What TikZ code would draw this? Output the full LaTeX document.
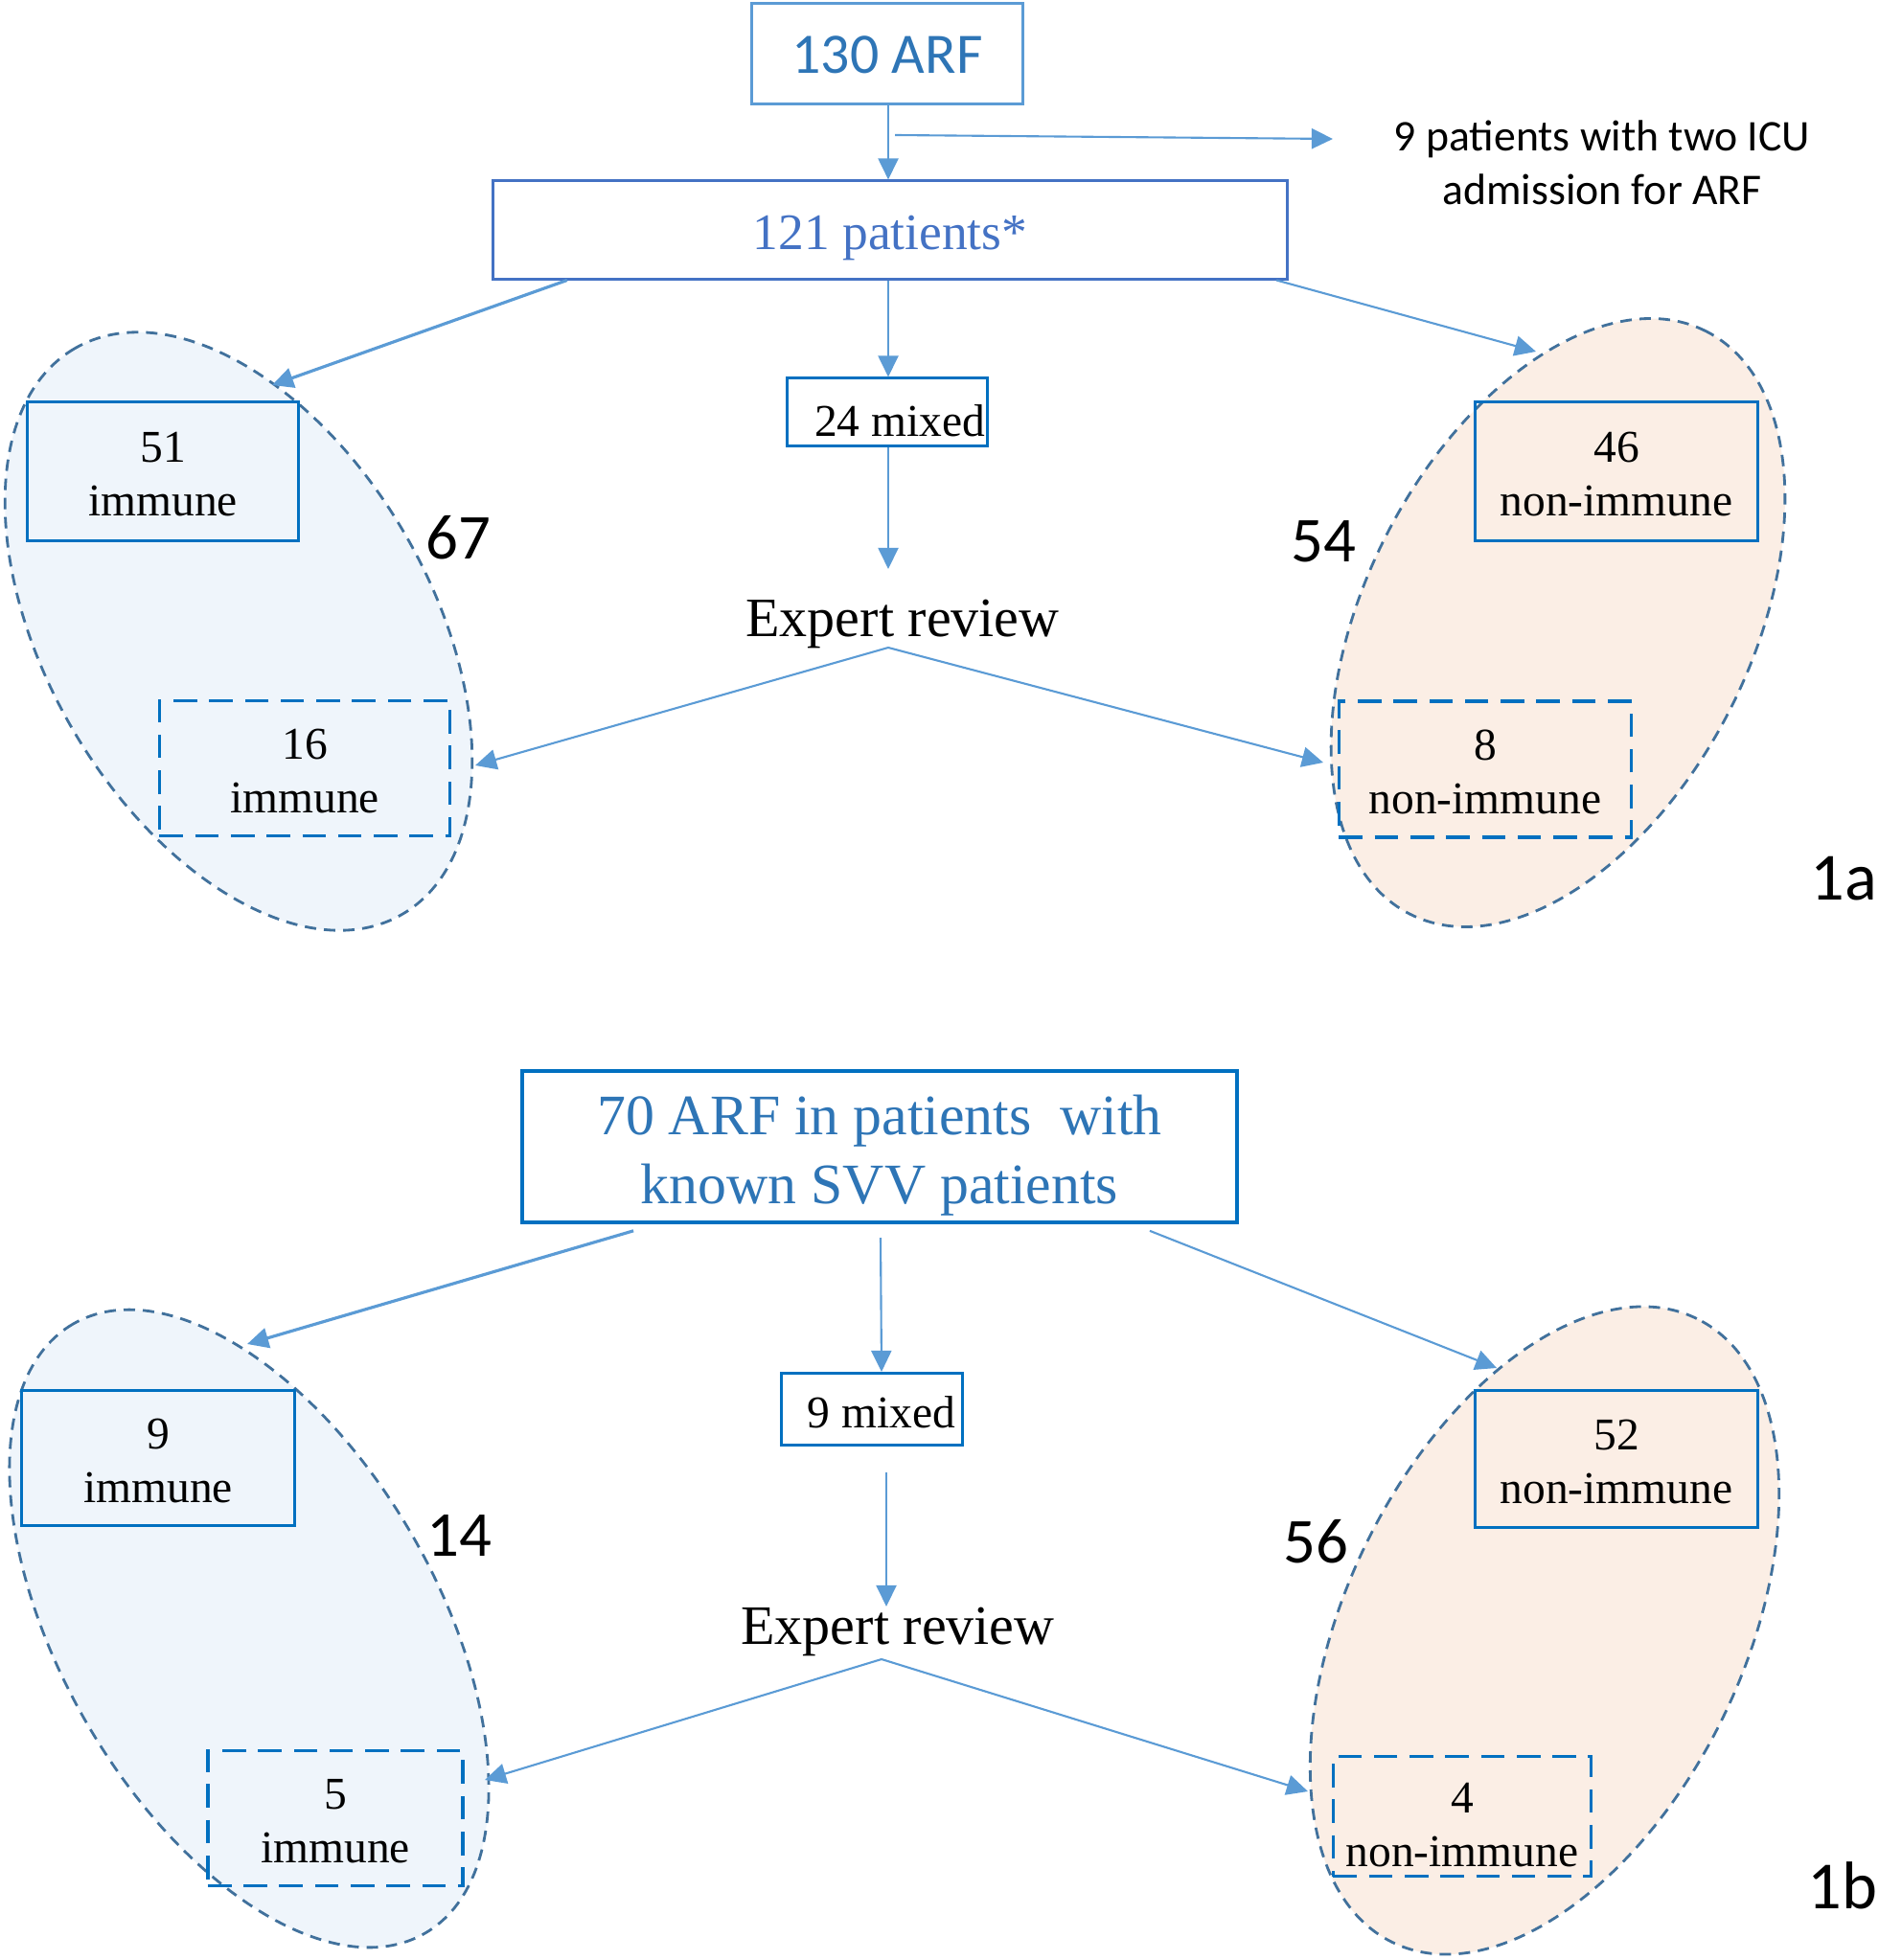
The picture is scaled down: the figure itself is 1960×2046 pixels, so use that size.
\documentclass[tikz,border=0pt]{standalone}
\usepackage{fontspec}
\setmainfont{Liberation Serif}
\newfontfamily\calfont{Carlito}
\usetikzlibrary{arrows.meta,shapes.geometric}
\definecolor{arrowblue}{HTML}{5B9BD5}
\definecolor{boxblue}{HTML}{0070C0}
\definecolor{bblue}{HTML}{4472C4}
\definecolor{ablue}{HTML}{5B9BD5}
\definecolor{ellborder}{HTML}{41719C}
\definecolor{ellL}{HTML}{EFF5FB}
\definecolor{ellR}{HTML}{FBEEE5}
\definecolor{txtblue}{HTML}{2E75B6}
\definecolor{txtblueB}{HTML}{4472C4}
\begin{document}
\begin{tikzpicture}[x=0.01cm,y=-0.01cm,
  arr/.style={draw=arrowblue, line width=0.6pt, -{Triangle[length=6.3pt,width=6pt]}},
  thickarr/.style={arr, line width=0.9pt},
  lab/.style={inner sep=0, align=center, font=\fontsize{13.5}{16}\selectfont},
  sbox/.style={draw=boxblue, line width=0.85pt, inner sep=0},
  dbox/.style={sbox, line width=1pt, dash pattern=on 7pt off 3.6pt},
  ell/.style={ellipse, draw=ellborder, line width=0.8pt, dash pattern=on 3.4pt off 2.3pt, inner sep=0},
  num/.style={font=\calfont\fontsize{19}{19}\selectfont, inner sep=0},
  review/.style={font=\fontsize{16.5}{18}\selectfont, inner sep=0},
]
\useasboundingbox (0,0) rectangle (1960,2046);

% ---------------- panel 1a ----------------
\node[ell, fill=ellL, minimum width=68.2mm, minimum height=40.2mm, rotate=120] (EL1) at (249,659) {};
\node[ell, fill=ellR, minimum width=68.2mm, minimum height=40.2mm, rotate=63] (ER1) at (1626,650) {};

\node[draw=ablue, line width=0.85pt, minimum width=28.2mm, minimum height=10.4mm, inner sep=0,
      label={[lab, text=txtblue, font=\calfont\fontsize{17}{20}\selectfont, yshift=-0.15mm]center:130 ARF}] (A) at (926,56) {};
\node[draw=bblue, line width=0.85pt, minimum width=82.9mm, minimum height=10.2mm, inner sep=0,
      label={[lab, text=txtblueB, font=\fontsize{15.2}{18}\selectfont, yshift=-0.8mm]center:121 patients*}] (B) at (929,240) {};

\coordinate (s1) at (934,141);
\coordinate (s2) at (1391,145);
\node[align=center, font=\calfont\fontsize{13}{16}\selectfont, inner sep=0] (T) at (1672,170)
  {9 patients with two ICU\\admission for ARF};

\node[sbox, minimum width=20.8mm, minimum height=7mm,
      label={[lab, xshift=1.3mm, yshift=-0.9mm]center:24 mixed}] (M1) at (926,430) {};
\coordinate (e1) at (927,594);
\node[review] (E1) at (942,651) {Expert review};
\coordinate (e1b) at (927,676);

\node[sbox, minimum width=28.2mm, minimum height=14.4mm,
      label={[lab, yshift=-0.3mm]center:51\\immune}] (L1) at (170,492) {};
\node[dbox, minimum width=30.3mm, minimum height=14.1mm,
      label={[lab, yshift=-0.3mm]center:16\\immune}] (L2) at (318,802) {};
\node[sbox, minimum width=29.5mm, minimum height=14.4mm,
      label={[lab, yshift=-0.3mm]center:46\\non-immune}] (R1) at (1687,492) {};
\node[dbox, minimum width=30.5mm, minimum height=14.2mm,
      label={[lab, yshift=-0.3mm]center:8\\non-immune}] (R2) at (1550,803) {};

\node[num] (N67) at (478,561) {67};
\node[num] (N54) at (1381,565) {54};
\node[num, font=\calfont\fontsize{20}{20}\selectfont, anchor=east] (P1a) at (1960,917) {1a};

\coordinate (tl1) at (284,402);
\coordinate (tr1) at (1603,367);
\coordinate (tl2) at (496,799);
\coordinate (tr2) at (1381,796);

\draw[arr] (A.south -| 927,0) -- (B.north -| 927,0);
\draw[arr] (s1) -- (s2);
\draw[thickarr] ([xshift=7.9mm]B.south west) -- (tl1);
\draw[arr] (B.south -| 927,0) -- (M1.north -| 927,0);
\draw[arr] ([xshift=-1.3mm]B.south east) -- (tr1);
\draw[arr] (M1.south -| 927,0) -- (e1);
\draw[arr] (e1b) -- (tl2);
\draw[arr] (e1b) -- (tr2);

% ---------------- panel 1b ----------------
\node[ell, fill=ellL, minimum width=73.4mm, minimum height=39.2mm, rotate=120] (EL2) at (260,1700) {};
\node[ell, fill=ellR, minimum width=72.4mm, minimum height=41.4mm, rotate=64] (ER2) at (1612,1702) {};

\node[draw=boxblue, line width=1pt, minimum width=74.6mm, minimum height=15.8mm, inner sep=0,
      label={[lab, text=txtblue, font=\fontsize{17}{20.5}\selectfont, yshift=-0.9mm]center:70 ARF in patients\ \ with\\known SVV patients}] (C) at (918,1197) {};

\coordinate (c1) at (919,1292);
\coordinate (tl3) at (258,1403);
\coordinate (tm3) at (920,1432);
\coordinate (tr3) at (1562,1428);

\node[sbox, minimum width=18.9mm, minimum height=7.5mm,
      label={[lab, xshift=1mm, yshift=-0.3mm]center:9 mixed}] (M2) at (910,1471) {};
\coordinate (m2a) at (925,1537);
\coordinate (e2) at (925,1677);
\node[review] (E2) at (937,1703) {Expert review};
\coordinate (e2b) at (920,1732);
\coordinate (tl4) at (506,1858);
\coordinate (tr4) at (1365,1870);

\node[sbox, minimum width=28.5mm, minimum height=14.1mm,
      label={[lab, yshift=-0.3mm]center:9\\immune}] (L3) at (165,1522) {};
\node[dbox, minimum width=26.6mm, minimum height=14.1mm,
      label={[lab, yshift=-0.3mm]center:5\\immune}] (L4) at (350,1898) {};
\node[sbox, minimum width=29.5mm, minimum height=14.3mm,
      label={[lab, yshift=-0.3mm]center:52\\non-immune}] (R3) at (1687,1523) {};
\node[dbox, minimum width=26.9mm, minimum height=12.5mm,
      label={[lab, yshift=-0.9mm]center:4\\non-immune}] (R4) at (1526,1896) {};

\node[num] (N14) at (479,1603) {14};
\node[num] (N56) at (1373,1609) {56};
\node[num, font=\calfont\fontsize{20}{20}\selectfont, anchor=east] (P1b) at (1960,1968) {1b};

\draw[thickarr] ([xshift=11.8mm,yshift=-0.7mm]C.south west) -- (tl3);
\draw[arr] (c1) -- (tm3);
\draw[arr] ([xshift=-9.3mm,yshift=-0.7mm]C.south east) -- (tr3);
\draw[arr] (m2a) -- (e2);
\draw[arr] (e2b) -- (tl4);
\draw[arr] (e2b) -- (tr4);
\end{tikzpicture}
\end{document}
